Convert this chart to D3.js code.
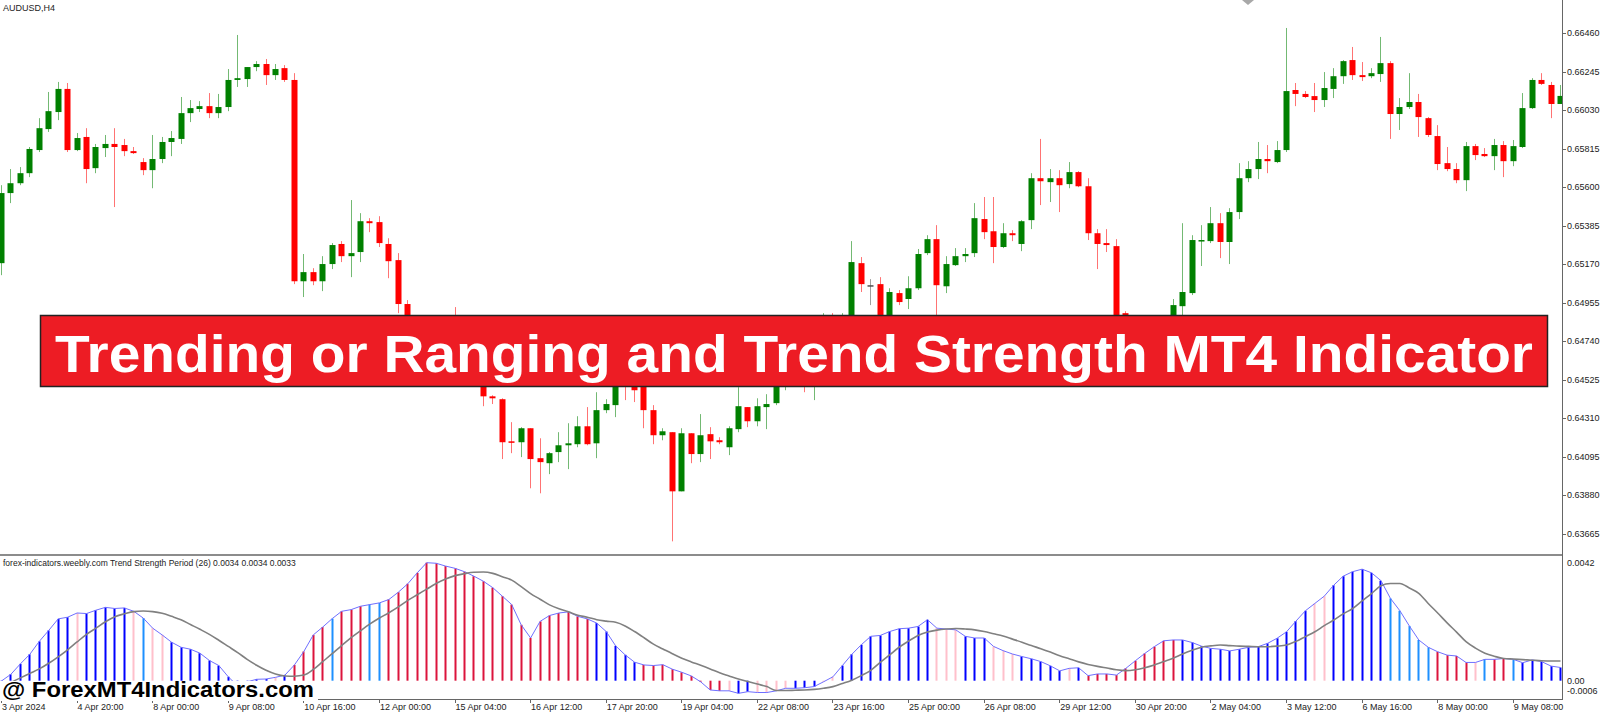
<!DOCTYPE html>
<html><head><meta charset="utf-8">
<script src="https://cdn.jsdelivr.net/npm/d3@7"></script>
<style>html,body{margin:0;padding:0;background:#fff;overflow:hidden}svg{display:block}text{font-family:"Liberation Sans",Arial,sans-serif}</style>
</head><body><svg id="c" width="1600" height="712"></svg>
<script>
const symbolLabel = "AUDUSD,H4";
const indicatorTitle = "forex-indicators.weebly.com Trend Strength Period (26) 0.0034 0.0034 0.0033";
const bannerText = "Trending or Ranging and Trend Strength MT4 Indicator";
const watermarkText = "@ ForexMT4Indicators.com";

const open = [0.65176,0.65567,0.65622,0.65678,0.65807,0.65924,0.66019,0.66148,0.65807,0.65880,
0.65706,0.65818,0.65841,0.65835,0.65801,0.65740,0.65695,0.65757,0.65852,0.65869,
0.66013,0.66036,0.66052,0.66013,0.66047,0.66198,0.66203,0.66270,0.66287,0.66225,
0.66264,0.66198,0.65075,0.65126,0.65075,0.65171,0.65283,0.65215,0.65238,0.65410,
0.65405,0.65283,0.65193,0.64948,0.64802,0.64858,0.64719,0.64680,0.64747,0.64657,
0.64691,0.64624,0.64433,0.64417,0.64182,0.64177,0.64255,0.64088,0.64060,0.64122,
0.64160,0.64166,0.64266,0.64171,0.64356,0.64384,0.64568,0.64534,0.64495,0.64356,
0.64216,0.64233,0.63903,0.64227,0.64111,0.64222,0.64188,0.64149,0.64250,0.64373,
0.64294,0.64373,0.64395,0.64635,0.64747,0.64691,0.64607,0.64719,0.64774,0.64747,
0.64802,0.65176,0.65053,0.65059,0.64858,0.65009,0.64976,0.65036,0.65232,0.65310,
0.65047,0.65165,0.65215,0.65232,0.65422,0.65354,0.65266,0.65343,0.65283,0.65416,
0.65650,0.65628,0.65650,0.65617,0.65684,0.65605,0.65343,0.65288,0.65271,0.64897,
0.64757,0.64719,0.64774,0.64736,0.64802,0.64936,0.65009,0.65299,0.65299,0.65399,
0.65294,0.65461,0.65650,0.65701,0.65757,0.65740,0.65807,0.66142,0.66120,0.66108,
0.66086,0.66148,0.66219,0.66309,0.66225,0.66219,0.66231,0.66292,0.66008,0.66047,
0.66075,0.65985,0.65885,0.65734,0.65701,0.65639,0.65829,0.65785,0.65773,0.65835,
0.65745,0.65824,0.66041,0.66198,0.66170,0.66064];

const high = [0.65611,0.65701,0.65712,0.65824,0.65985,0.66131,0.66187,0.66181,0.65902,0.65929,
0.65841,0.65891,0.65929,0.65869,0.65824,0.65762,0.65891,0.65880,0.65913,0.66103,
0.66086,0.66080,0.66125,0.66120,0.66259,0.66449,0.66270,0.66303,0.66315,0.66287,
0.66281,0.66236,0.65227,0.65148,0.65215,0.65288,0.65299,0.65528,0.65455,0.65427,
0.65438,0.65315,0.65232,0.64970,0.64869,0.64880,0.64757,0.64802,0.64931,0.64858,
0.64719,0.64663,0.64439,0.64422,0.64289,0.64261,0.64255,0.64199,0.64122,0.64233,
0.64283,0.64322,0.64373,0.64456,0.64417,0.64635,0.64607,0.64579,0.64523,0.64384,
0.64255,0.64233,0.64255,0.64227,0.64334,0.64261,0.64205,0.64266,0.64484,0.64373,
0.64422,0.64445,0.64691,0.64802,0.64830,0.64774,0.64747,0.64897,0.64897,0.64897,
0.65299,0.65210,0.65087,0.65098,0.65036,0.65026,0.65103,0.65255,0.65332,0.65388,
0.65215,0.65260,0.65260,0.65511,0.65545,0.65545,0.65399,0.65360,0.65416,0.65678,
0.65869,0.65701,0.65695,0.65740,0.65689,0.65650,0.65366,0.65366,0.65310,0.64908,
0.64830,0.64813,0.64830,0.64847,0.64976,0.65399,0.65332,0.65388,0.65489,0.65455,
0.65483,0.65734,0.65745,0.65852,0.65835,0.65857,0.66488,0.66181,0.66136,0.66181,
0.66242,0.66264,0.66309,0.66382,0.66298,0.66264,0.66438,0.66303,0.66097,0.66236,
0.66120,0.65991,0.65946,0.65824,0.65734,0.65852,0.65841,0.65818,0.65869,0.65857,
0.65863,0.66125,0.66208,0.66236,0.66187,0.66170];

const low = [0.65109,0.65511,0.65611,0.65656,0.65796,0.65908,0.65974,0.65796,0.65801,0.65622,
0.65678,0.65768,0.65489,0.65773,0.65785,0.65667,0.65594,0.65734,0.65773,0.65841,
0.65963,0.66019,0.65985,0.65985,0.66024,0.66159,0.66159,0.66247,0.66170,0.66198,
0.66187,0.65059,0.64987,0.65053,0.65020,0.65143,0.65182,0.65098,0.65182,0.65349,
0.65266,0.65092,0.64897,0.64747,0.64719,0.64691,0.64635,0.64646,0.64624,0.64607,
0.64579,0.64378,0.64390,0.64083,0.64116,0.64094,0.63920,0.63892,0.63999,0.64066,
0.64027,0.64149,0.64160,0.64088,0.64339,0.64317,0.64412,0.64401,0.64255,0.64166,
0.64188,0.63624,0.63903,0.64060,0.64066,0.64083,0.64166,0.64105,0.64233,0.64261,
0.64266,0.64250,0.64384,0.64467,0.64579,0.64456,0.64412,0.64691,0.64691,0.64719,
0.64774,0.65015,0.64942,0.64802,0.64830,0.64942,0.64920,0.65026,0.65221,0.64869,
0.65009,0.65160,0.65182,0.65210,0.65310,0.65176,0.65260,0.65299,0.65243,0.65366,
0.65500,0.65517,0.65461,0.65594,0.65600,0.65305,0.65143,0.65238,0.64719,0.64691,
0.64635,0.64663,0.64691,0.64680,0.64747,0.64869,0.64998,0.65160,0.65288,0.65204,
0.65171,0.65422,0.65628,0.65645,0.65678,0.65734,0.65796,0.66052,0.66097,0.66019,
0.66047,0.66097,0.66176,0.66198,0.66192,0.66208,0.66187,0.65869,0.65919,0.66036,
0.65880,0.65880,0.65695,0.65689,0.65622,0.65578,0.65751,0.65768,0.65695,0.65656,
0.65717,0.65818,0.66036,0.66170,0.65985,0.66064];

const close = [0.65567,0.65622,0.65678,0.65813,0.65929,0.66024,0.66148,0.65807,0.65874,0.65701,
0.65824,0.65841,0.65824,0.65801,0.65790,0.65695,0.65757,0.65852,0.65874,0.66013,
0.66041,0.66052,0.66013,0.66047,0.66198,0.66208,0.66270,0.66287,0.66225,0.66259,
0.66198,0.65075,0.65126,0.65075,0.65171,0.65277,0.65215,0.65232,0.65410,0.65399,
0.65288,0.65187,0.64948,0.64802,0.64858,0.64719,0.64680,0.64747,0.64657,0.64691,
0.64624,0.64433,0.64422,0.64177,0.64177,0.64255,0.64083,0.64066,0.64116,0.64160,
0.64171,0.64266,0.64166,0.64356,0.64390,0.64568,0.64523,0.64467,0.64356,0.64216,
0.64238,0.63903,0.64227,0.64111,0.64216,0.64182,0.64177,0.64255,0.64378,0.64294,
0.64378,0.64390,0.64635,0.64747,0.64691,0.64607,0.64719,0.64774,0.64747,0.64802,
0.65182,0.65059,0.65053,0.64858,0.65015,0.64959,0.65036,0.65227,0.65310,0.65053,
0.65171,0.65215,0.65227,0.65427,0.65349,0.65266,0.65343,0.65332,0.65410,0.65650,
0.65633,0.65650,0.65611,0.65684,0.65605,0.65343,0.65283,0.65277,0.64774,0.64757,
0.64719,0.64774,0.64736,0.64802,0.64942,0.65015,0.65305,0.65305,0.65399,0.65294,
0.65461,0.65650,0.65701,0.65757,0.65745,0.65807,0.66136,0.66120,0.66103,0.66086,
0.66153,0.66219,0.66303,0.66225,0.66214,0.66236,0.66292,0.66008,0.66047,0.66075,
0.65991,0.65891,0.65729,0.65701,0.65639,0.65829,0.65779,0.65773,0.65835,0.65745,
0.65829,0.66041,0.66198,0.66176,0.66064,0.66109];

const trendStrength = [-0.00001,0.00023,0.00060,0.00094,0.00140,0.00179,0.00220,0.00226,0.00241,0.00239,
0.00251,0.00261,0.00257,0.00259,0.00247,0.00223,0.00187,0.00163,0.00137,0.00119,
0.00112,0.00098,0.00072,0.00054,0.00014,-0.00019,-0.00004,0.00005,0.00006,0.00012,
0.00020,0.00056,0.00104,0.00163,0.00191,0.00221,0.00247,0.00253,0.00265,0.00271,
0.00277,0.00289,0.00315,0.00345,0.00384,0.00420,0.00418,0.00408,0.00400,0.00388,
0.00372,0.00354,0.00331,0.00301,0.00271,0.00199,0.00152,0.00211,0.00232,0.00241,
0.00245,0.00229,0.00220,0.00205,0.00175,0.00124,0.00092,0.00066,0.00056,0.00054,
0.00057,0.00041,0.00030,0.00017,-0.00004,-0.00033,-0.00036,-0.00036,-0.00045,-0.00039,
-0.00042,-0.00042,-0.00036,-0.00027,-0.00027,-0.00025,-0.00021,-0.00004,0.00014,0.00054,
0.00094,0.00128,0.00158,0.00161,0.00175,0.00185,0.00187,0.00193,0.00217,0.00187,
0.00184,0.00181,0.00158,0.00152,0.00152,0.00122,0.00107,0.00095,0.00086,0.00078,
0.00068,0.00053,0.00035,0.00044,0.00046,0.00018,0.00024,0.00024,0.00020,0.00044,
0.00071,0.00097,0.00121,0.00142,0.00145,0.00145,0.00136,0.00123,0.00115,0.00112,
0.00106,0.00112,0.00119,0.00121,0.00133,0.00151,0.00174,0.00212,0.00249,0.00275,
0.00301,0.00340,0.00372,0.00388,0.00397,0.00384,0.00356,0.00293,0.00249,0.00195,
0.00145,0.00119,0.00103,0.00091,0.00088,0.00065,0.00065,0.00076,0.00076,0.00079,
0.00076,0.00064,0.00074,0.00068,0.00052,0.00047];

// B = strong up (blue), R = strong down (crimson), P = weak (pink), L = fading (dodger blue)
const barState = ("BBBBBBBBPB"+"BBBBPLPPBB"+"BBBBBBBBBP"+"BRRRRLRRRL"+"LRRRRRRRRR"+
"RRRRRRRRRR"+"RRRBBBBBRR"+"RRRRRRRPBB"+"PPPPBBBPPB"+"BBBBBBBBBP"+
"PPBBBPPPBB"+"BBBPBRRRRR"+"RRRRRBBBBB"+"BBBBBBBBBP"+"PBBBBBBLLL"+
"LLRRRRPLRR"+"LBBBBB").split("");

const signal = [-0.00021,-0.00006,0.00010,0.00026,0.00042,0.00062,0.00085,0.00110,0.00138,0.00165,
0.00187,0.00210,0.00228,0.00238,0.00246,0.00248,0.00246,0.00240,0.00229,0.00217,
0.00200,0.00183,0.00165,0.00144,0.00122,0.00100,0.00076,0.00055,0.00037,0.00024,
0.00017,0.00016,0.00020,0.00040,0.00068,0.00096,0.00125,0.00153,0.00178,0.00202,
0.00223,0.00242,0.00263,0.00286,0.00306,0.00326,0.00346,0.00362,0.00374,0.00381,
0.00386,0.00387,0.00382,0.00370,0.00358,0.00335,0.00310,0.00290,0.00270,0.00256,
0.00245,0.00233,0.00226,0.00217,0.00212,0.00208,0.00195,0.00175,0.00153,0.00130,
0.00113,0.00096,0.00080,0.00067,0.00055,0.00042,0.00028,0.00017,0.00006,-0.00003,
-0.00012,-0.00021,-0.00035,-0.00035,-0.00034,-0.00033,-0.00031,-0.00027,-0.00021,-0.00010,
0.00002,0.00018,0.00037,0.00065,0.00092,0.00119,0.00141,0.00161,0.00173,0.00180,
0.00184,0.00186,0.00184,0.00181,0.00175,0.00167,0.00159,0.00148,0.00137,0.00125,
0.00114,0.00102,0.00089,0.00078,0.00067,0.00058,0.00051,0.00045,0.00039,0.00036,
0.00039,0.00046,0.00056,0.00068,0.00080,0.00095,0.00108,0.00119,0.00124,0.00127,
0.00125,0.00123,0.00122,0.00121,0.00121,0.00123,0.00127,0.00140,0.00157,0.00174,
0.00196,0.00216,0.00238,0.00257,0.00284,0.00310,0.00338,0.00346,0.00346,0.00330,
0.00311,0.00275,0.00241,0.00206,0.00173,0.00139,0.00116,0.00098,0.00087,0.00079,
0.00077,0.00075,0.00073,0.00071,0.00070,0.00070];

const priceTicks = [0.66460,0.66245,0.66030,0.65815,0.65600,0.65385,0.65170,0.64955,0.64740,0.64525,0.64310,0.64095,0.63880,0.63665];
const indTicks = [0.0042, 0, -0.0006];
const indTickLabels = ["0.0042","0.00","-0.0006"];
const timeLabels = ["3 Apr 2024","4 Apr 20:00","8 Apr 00:00","9 Apr 08:00","10 Apr 16:00","12 Apr 00:00","15 Apr 04:00","16 Apr 12:00","17 Apr 20:00","19 Apr 04:00","22 Apr 08:00","23 Apr 16:00","25 Apr 00:00","26 Apr 08:00","29 Apr 12:00","30 Apr 20:00","2 May 04:00","3 May 12:00","6 May 16:00","8 May 00:00","9 May 08:00"];
const labelEvery = 8;

const stateColor = {B:"#0000ff", R:"#dc143c", P:"#ffc0cb", L:"#1e90ff"};

const W = 1600, H = 712;
const axisX = 1562;
const mainBottom = 553, indTop = 557, indBottom = 699;

const svg = d3.select("#c");
const n = open.length;
const xs = d3.scaleLinear().domain([0, n - 1]).range([1, 1560]);
const yP = d3.scaleLinear().domain([0.63665, 0.66460]).range([534, 33]);
const yI = d3.scaleLinear().domain([0, 0.0042]).range([680.7, 562.7]);

const defs = svg.append("defs");
defs.append("clipPath").attr("id","clipMain").append("rect").attr("x",0).attr("y",0).attr("width",axisX).attr("height",mainBottom);
defs.append("clipPath").attr("id","clipInd").append("rect").attr("x",0).attr("y",indTop).attr("width",axisX).attr("height",indBottom-indTop);

// ---------- main pane candles
const candles = d3.range(n).map(i => ({i, o:open[i], h:high[i], l:low[i], c:close[i]}));
const colOf = d => d.c > d.o ? "#008000" : (d.c < d.o ? "#ff0000" : "#505050");
const gMain = svg.append("g").attr("clip-path","url(#clipMain)");
gMain.selectAll("line.wick").data(candles).join("line")
  .attr("class","wick")
  .attr("x1", d => Math.round(xs(d.i)) + 0.5).attr("x2", d => Math.round(xs(d.i)) + 0.5)
  .attr("y1", d => yP(d.h)).attr("y2", d => yP(d.l))
  .attr("stroke", colOf).attr("stroke-width", 1).attr("stroke-opacity", 0.55);
gMain.selectAll("rect.body").data(candles).join("rect")
  .attr("class","body")
  .attr("x", d => Math.round(xs(d.i)) - 2.5)
  .attr("width", 6)
  .attr("y", d => Math.min(yP(d.o), yP(d.c)))
  .attr("height", d => Math.max(1.5, Math.abs(yP(d.o) - yP(d.c))))
  .attr("fill", colOf);

// shift marker
svg.append("path").attr("d","M1242,0 L1254,0 L1248,5 Z").attr("fill","#a8a8a8");

svg.append("text").attr("x",3).attr("y",11).attr("font-size",9).attr("fill","#222").text(symbolLabel);

// price axis
svg.append("line").attr("x1",axisX+0.5).attr("x2",axisX+0.5).attr("y1",0).attr("y2",indBottom+1).attr("stroke","#666");
const pa = svg.append("g");
pa.selectAll("line").data(priceTicks).join("line")
  .attr("x1",axisX).attr("x2",axisX+4).attr("y1",d=>Math.round(yP(d))+0.5).attr("y2",d=>Math.round(yP(d))+0.5).attr("stroke","#666");
pa.selectAll("text").data(priceTicks).join("text")
  .attr("x",axisX+5).attr("y",d=>yP(d)+3).attr("font-size",9).attr("fill","#222").text(d=>d.toFixed(5));

// pane separator
svg.append("rect").attr("x",0).attr("y",554).attr("width",axisX).attr("height",2).attr("fill","#8c8c8c");

// ---------- indicator pane
const gInd = svg.append("g").attr("clip-path","url(#clipInd)");
gInd.selectAll("rect.hist").data(d3.range(n)).join("rect")
  .attr("class","hist")
  .attr("x", i => Math.round(xs(i)) - 0.5)
  .attr("width", 2)
  .attr("y", i => Math.min(yI(0), yI(trendStrength[i])))
  .attr("height", i => Math.abs(yI(trendStrength[i]) - yI(0)))
  .attr("fill", i => stateColor[barState[i]]);
gInd.append("path").datum(d3.range(n))
  .attr("d", d3.line().x(i => xs(i)+0.5).y(i => yI(trendStrength[i])))
  .attr("fill","none").attr("stroke","#6f6fff").attr("stroke-width",1);
gInd.append("path").datum(d3.range(n))
  .attr("d", d3.line().curve(d3.curveMonotoneX).x(i => xs(i)+0.5).y(i => yI(signal[i])))
  .attr("fill","none").attr("stroke","#808080").attr("stroke-width",1.6);

svg.append("text").attr("x",3).attr("y",566).attr("font-size",8.5).attr("fill","#222").text(indicatorTitle);

const ia = svg.append("g");
ia.selectAll("text").data(indTicks).join("text")
  .attr("x",axisX+5).attr("y",(d)=>Math.min(yI(d), 691)+3).attr("font-size",9).attr("fill","#222")
  .text((d,k)=>indTickLabels[k]);

// time axis
svg.append("line").attr("x1",0).attr("x2",axisX).attr("y1",indBottom+0.5).attr("y2",indBottom+0.5).attr("stroke","#666");
const tIdx = timeLabels.map((t,k)=>k*labelEvery);
const ta = svg.append("g");
ta.selectAll("line").data(tIdx).join("line")
  .attr("x1",i=>Math.round(xs(i))+0.5).attr("x2",i=>Math.round(xs(i))+0.5)
  .attr("y1",indBottom).attr("y2",indBottom+4).attr("stroke","#666");
ta.selectAll("text").data(tIdx).join("text")
  .attr("x",i=>xs(i)+1).attr("y",710).attr("font-size",9).attr("fill","#222")
  .text((i,k)=>timeLabels[k]);

// watermark
svg.append("rect").attr("x",0).attr("y",681).attr("width",318).attr("height",20).attr("fill","#fff");
svg.append("text").attr("x",2).attr("y",697).attr("font-size",22).attr("font-weight",700)
  .attr("textLength",312).attr("lengthAdjust","spacingAndGlyphs").attr("fill","#000").text(watermarkText);

// banner
svg.append("rect").attr("x",40.5).attr("y",315.5).attr("width",1507).attr("height",71)
  .attr("fill","#ed1c24").attr("stroke","#222").attr("stroke-width",1.5);
svg.append("text").attr("x",55).attr("y",372).attr("font-size",51).attr("font-weight",700)
  .attr("textLength",1478).attr("lengthAdjust","spacingAndGlyphs").attr("fill","#fff").text(bannerText);
</script></body></html>
